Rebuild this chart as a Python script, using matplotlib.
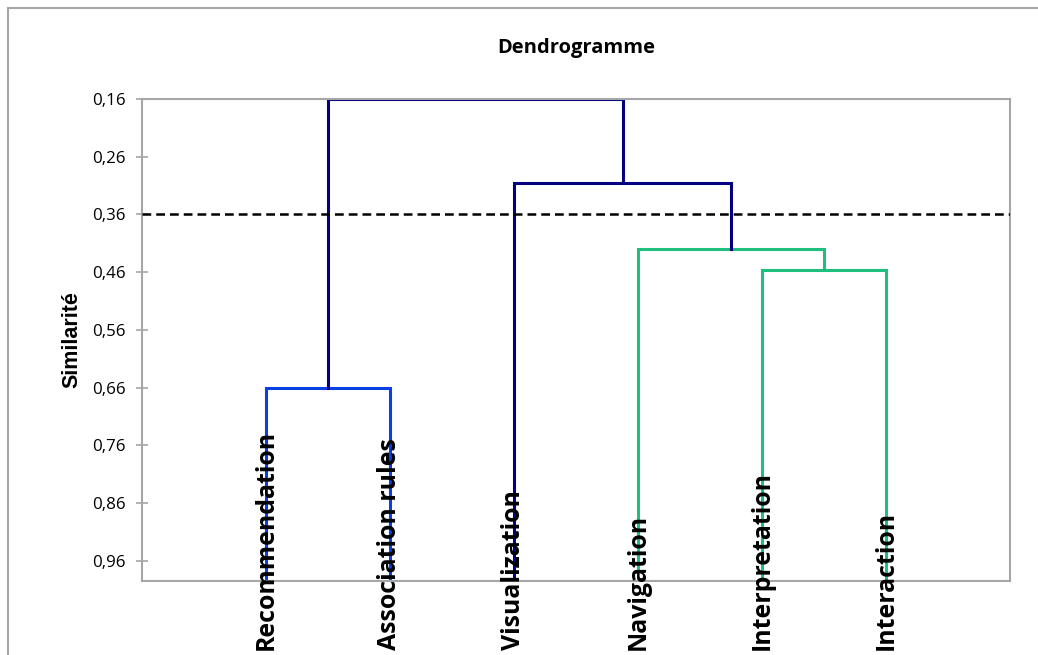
import matplotlib.pyplot as plt
import matplotlib.transforms as mtransforms
from matplotlib.patches import Rectangle

# feuilles du dendrogramme (ordre d'affichage)
feuilles = ["Recommendation", "Association rules", "Visualization",
            "Navigation", "Interpretation", "Interaction"]

# fusions : (noeud gauche, noeud droit, similarité, couleur)
# noeuds 0-5 = feuilles, 6+ = fusions dans l'ordre
fusions_gauche = [0, 4, 3, 2, 6]
fusions_droite = [1, 5, 7, 8, 9]
fusions_hauteur = [0.66, 0.457, 0.42, 0.306, 0.16]
fusions_couleur = ["#0A3FE6", "#1FC07F", "#1FC07F", "#000080", "#000080"]

seuil = 0.36
graduations = [0.16, 0.26, 0.36, 0.46, 0.56, 0.66, 0.76, 0.86, 0.96]

y_bas = 0.995
y_haut = 0.16

fig = plt.figure(figsize=(10.38, 6.55), dpi=100)
ax = fig.add_axes([142 / 1038, 1 - 581 / 655, 868 / 1038, 482 / 655])

# cadre extérieur du graphique
fig.patches.append(Rectangle((8 / 1038, -0.2), 1.2, 1.2 - 8 / 655, transform=fig.transFigure,
                             fill=False, edgecolor="#A6A6A6", linewidth=1.5))

pos_x = [i + 1 for i in range(len(feuilles))]
pos_y = [y_bas] * len(feuilles)
for g, d, h, c in zip(fusions_gauche, fusions_droite, fusions_hauteur, fusions_couleur):
    xg, yg = pos_x[g], pos_y[g]
    xd, yd = pos_x[d], pos_y[d]
    ax.plot([xg, xg, xd, xd], [yg, h, h, yd], color=c, linewidth=2.2,
            solid_joinstyle="miter", zorder=2)
    pos_x.append((xg + xd) / 2)
    pos_y.append(h)

ax.axhline(seuil, color="black", linestyle=(0, (3.5, 2)), linewidth=1.8, zorder=3)

ax.set_xlim(0, 7)
ax.set_ylim(y_bas, y_haut)
ax.set_yticks(graduations)
ax.set_yticklabels([f"{v:.2f}".replace(".", ",") for v in graduations],
                   fontsize=12.2, family="Open Sans")
ax.set_xticks([])
ax.tick_params(axis="y", direction="inout", length=8, width=1.2, color="#A6A6A6", pad=8)
for s in ax.spines.values():
    s.set_color("#A6A6A6")
    s.set_linewidth(1.5)

# étiquettes des feuilles, verticales, sous l'axe
trans = mtransforms.blended_transform_factory(ax.transData, fig.transFigure)
for i, nom in enumerate(feuilles):
    ax.text(i + 1, 1 - 650 / 655, nom, rotation=90, ha="center", va="bottom",
            fontsize=17.9, fontweight="bold", family="Open Sans", transform=trans,
            clip_on=False, zorder=5)

ax.set_ylabel("Similarité", fontsize=15.5, fontweight="bold", family="Liberation Sans",
              labelpad=7)
fig.text((142 + 1010) / 2 / 1038, 1 - 48 / 655, "Dendrogramme", ha="center", va="center",
         fontsize=14.5, fontweight="bold", family="Open Sans")

fig.savefig("out.png", dpi=100)
